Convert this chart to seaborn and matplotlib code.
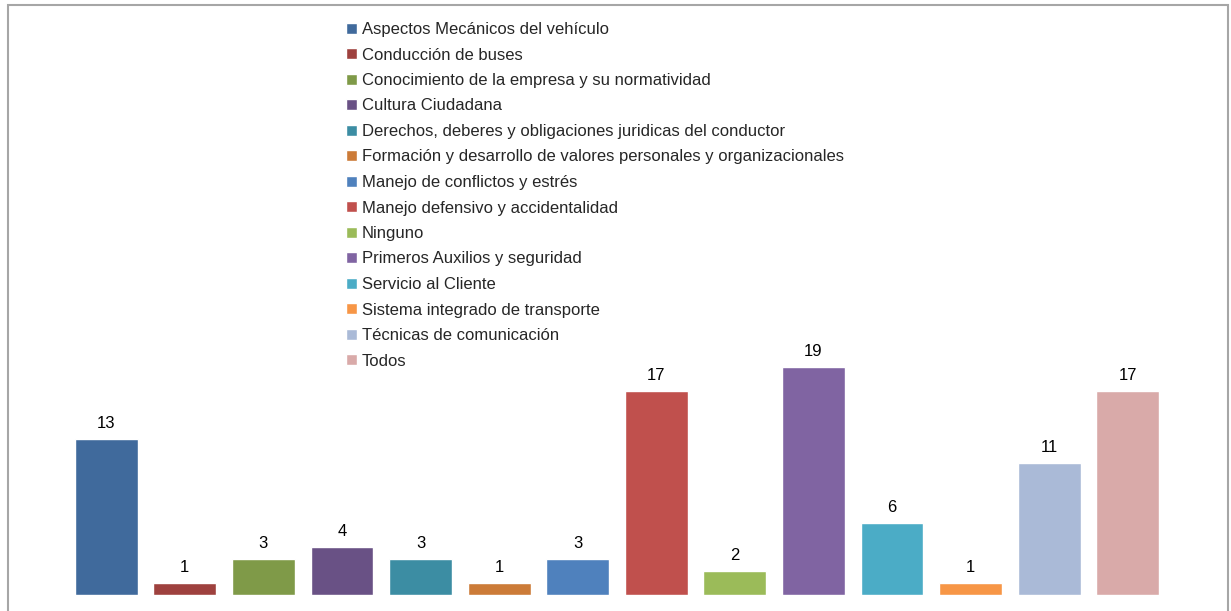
import matplotlib
matplotlib.use("Agg")
import matplotlib.pyplot as plt
import seaborn as sns
from matplotlib.patches import Patch, Rectangle
from matplotlib import font_manager

categories = [
    "Aspectos Mecánicos del vehículo",
    "Conducción de buses",
    "Conocimiento de la empresa y su normatividad",
    "Cultura Ciudadana",
    "Derechos, deberes y obligaciones juridicas del conductor",
    "Formación y desarrollo de valores personales y organizacionales",
    "Manejo de conflictos y estrés",
    "Manejo defensivo y accidentalidad",
    "Ninguno",
    "Primeros Auxilios y seguridad",
    "Servicio al Cliente",
    "Sistema integrado de transporte",
    "Técnicas de comunicación",
    "Todos",
]
values = [13, 1, 3, 4, 3, 1, 3, 17, 2, 19, 6, 1, 11, 17]
colors = ["#406A9C", "#9E413E", "#7F9A48", "#695185", "#3C8DA3", "#CC7B38", "#4F81BD",
          "#C0504D", "#9BBB59", "#8064A2", "#4BACC6", "#F79646", "#AABAD7", "#D9AAA9"]

sns.set_style("white")
names = {f.name for f in font_manager.fontManager.ttflist}
fam = "Liberation Sans Narrow" if "Liberation Sans Narrow" in names else "Liberation Sans"
plt.rcParams["font.family"] = [fam, "DejaVu Sans"]

W, H = 1231, 611
fig = plt.figure(figsize=(W / 100, H / 100), dpi=100)
# outer chart border (Excel chart area), bottom edge falls outside the image
fig.patches.append(Rectangle((8 / W, -0.05), 1220 / W, 1.05 - 5 / H, transform=fig.transFigure,
                             fill=False, edgecolor="#a6a6a6", linewidth=1.5))

ax = fig.add_axes([67 / W, 16 / H, 1100 / W, 240 / H])
sns.barplot(x=categories, y=values, hue=categories, palette=colors, width=0.8,
            legend=False, saturation=1, ax=ax)
ax.set_ylim(0, 20)
ax.set_xlim(-0.5, len(categories) - 0.5)
for c in ax.containers:
    ax.bar_label(c, padding=6, fontsize=12, color="#000000")
ax.set_axis_off()

handles = [Patch(facecolor=col, label=lab) for col, lab in zip(colors, categories)]
fig.legend(handles=handles, loc="upper left", bbox_to_anchor=(346 / W, 1 - 22 / H),
           frameon=False, fontsize=12, labelspacing=0.63, handlelength=0.65,
           handleheight=0.65, handletextpad=0.3, borderpad=0, borderaxespad=0)

fig.savefig("out.png", dpi=100)
